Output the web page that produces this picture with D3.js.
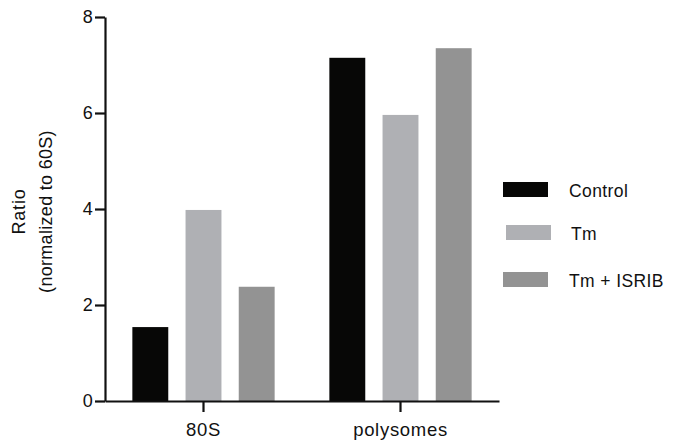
<!DOCTYPE html>
<html lang="en">
<head>
    <meta charset="UTF-8">
    <title>Ratio normalized to 60S</title>
    <script src="https://d3js.org/d3.v7.min.js"></script>
    <style>
        body {
            margin: 0;
            background: #fff;
            font-family: "Liberation Sans", Arial, Helvetica, sans-serif;
        }
        text {
            fill: #111;
        }
    </style>
</head>
<body>
    <div id="chart"></div>

    <script>
        // Data
        const categories = ["80S", "polysomes"];
        const seriesNames = ["Control", "Tm", "Tm + ISRIB"];
        const control = [1.54, 7.15];
        const tm = [3.98, 5.96];
        const tmIsrib = [2.38, 7.35];
        const yTicks = [0, 2, 4, 6, 8];
        const colors = ["#070706", "#afb0b4", "#939393"];

        const seriesValues = [control, tm, tmIsrib];

        const width = 677, height = 445;

        const svg = d3.select("#chart").append("svg")
            .attr("width", width)
            .attr("height", height);

        // Scales
        const yScale = d3.scaleLinear()
            .domain([0, 8])
            .range([401, 17]);

        const x0 = d3.scaleBand()
            .domain(categories)
            .range([105, 499])
            .padding(0);

        const x1 = d3.scaleBand()
            .domain(seriesNames)
            .range([0, x0.bandwidth() * 0.81])
            .paddingInner(0.325)
            .paddingOuter(0.1625);

        const innerOffset = (x0.bandwidth() - x1.range()[1]) / 2;

        // Bars
        const groups = svg.selectAll(".group")
            .data(categories)
            .enter().append("g")
            .attr("class", "group")
            .attr("transform", d => `translate(${x0(d) + innerOffset},0)`);

        groups.selectAll("rect")
            .data((d, i) => seriesNames.map((s, j) => ({ series: s, value: seriesValues[j][i], color: colors[j] })))
            .enter().append("rect")
            .attr("x", d => x1(d.series))
            .attr("y", d => yScale(d.value))
            .attr("width", x1.bandwidth())
            .attr("height", d => yScale(0) - yScale(d.value))
            .attr("fill", d => d.color);

        // Y axis
        const yAxis = svg.append("g")
            .attr("transform", "translate(105,0)")
            .call(d3.axisLeft(yScale).tickValues(yTicks).tickSize(10).tickPadding(2).tickSizeOuter(0));

        // X axis
        const xAxis = svg.append("g")
            .attr("transform", `translate(0,${yScale(0)})`)
            .call(d3.axisBottom(x0).tickSize(11).tickPadding(11).tickSizeOuter(0));

        [yAxis, xAxis].forEach(ax => {
            ax.select(".domain").attr("stroke", "#111").attr("stroke-width", 2.2);
            ax.selectAll(".tick line").attr("stroke", "#111").attr("stroke-width", 2.2);
            ax.selectAll("text").attr("fill", "#111").attr("font-family", "'Liberation Sans', Arial, sans-serif");
        });
        yAxis.selectAll("text").attr("font-size", 18).attr("letter-spacing", "0.3px");
        xAxis.selectAll("text").attr("font-size", 18.5).attr("letter-spacing", "0.7px");

        // Y axis title
        svg.append("text")
            .attr("transform", "translate(25,211.5) rotate(-90)")
            .attr("text-anchor", "middle")
            .attr("font-size", 18)
            .attr("letter-spacing", "0.8px")
            .text("Ratio");

        svg.append("text")
            .attr("transform", "translate(52,211.5) rotate(-90)")
            .attr("text-anchor", "middle")
            .attr("font-size", 18)
            .attr("letter-spacing", "0.3px")
            .text("(normalized to 60S)");

        // Legend
        const legendRows = [
            { name: seriesNames[0], color: colors[0], sx: 503, y: 182, tx: 569 },
            { name: seriesNames[1], color: colors[1], sx: 506, y: 225, tx: 571 },
            { name: seriesNames[2], color: colors[2], sx: 503, y: 272, tx: 569 }
        ];

        const legend = svg.selectAll(".legend")
            .data(legendRows)
            .enter().append("g")
            .attr("class", "legend");

        legend.append("rect")
            .attr("x", d => d.sx)
            .attr("y", d => d.y)
            .attr("width", 45)
            .attr("height", 15)
            .attr("fill", d => d.color);

        legend.append("text")
            .attr("x", d => d.tx)
            .attr("y", d => d.y + 14.5)
            .attr("font-size", 17.5)
            .attr("letter-spacing", "0.4px")
            .text(d => d.name);
    </script>
</body>
</html>
